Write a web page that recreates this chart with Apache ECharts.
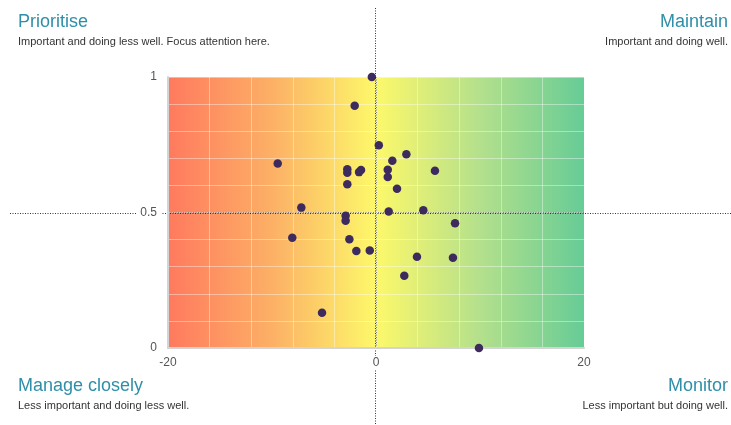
<!DOCTYPE html>
<html>
<head>
<meta charset="utf-8">
<title>Importance vs performance</title>
<script src="https://cdn.jsdelivr.net/npm/echarts@6/dist/echarts.min.js"></script>
<style>
  html, body { margin: 0; padding: 0; background: #fff; }
  #chart { width: 731px; height: 425px; }
</style>
</head>
<body>
<div id="chart"></div>
<script>
// Performance (x, -20..20) against importance (y, 0..1)
const performance = [
  -0.4, -2.05, 0.27, -9.45, -2.76, -2.76, -1.63, -1.44, 1.13, 1.13,
  -2.76, -7.18, 2.92, 1.57, 5.67, 2.02, -2.92, -2.92, -8.05, -2.56,
  -1.89, -0.6, -5.19, 1.22, 4.55, 7.6, 3.94, 7.4, 2.72, 9.9
];
const importance = [
  1.0, 0.894, 0.748, 0.681, 0.660, 0.647, 0.649, 0.657, 0.658, 0.631,
  0.604, 0.518, 0.715, 0.691, 0.654, 0.588, 0.488, 0.470, 0.407, 0.401,
  0.358, 0.360, 0.130, 0.504, 0.508, 0.460, 0.337, 0.333, 0.267, 0.0
];
const xTickLabels = [-20, 0, 20];
const yTickLabels = [0, 0.5, 1];
const quadrants = [
  { title: 'Prioritise', sub: 'Important and doing less well. Focus attention here.', side: 'left', row: 'top' },
  { title: 'Maintain', sub: 'Important and doing well.', side: 'right', row: 'top' },
  { title: 'Manage closely', sub: 'Less important and doing less well.', side: 'left', row: 'bottom' },
  { title: 'Monitor', sub: 'Less important but doing well.', side: 'right', row: 'bottom' }
];
const crossAt = [0, 0.5];

const points = performance.map((x, i) => [x, importance[i]]);
const near = (v, list) => list.some(t => Math.abs(v - t) < 1e-6);

const chart = echarts.init(document.getElementById('chart'));

const font = '"Liberation Sans", Arial, sans-serif';
const labelStyle = {
  color: '#555', fontSize: 12, fontFamily: font,
  backgroundColor: '#fff', padding: [1, 4]
};
const gridLine = { show: true, lineStyle: { color: 'rgba(255,255,255,0.4)', width: 1 } };
const edgeLine = { show: true, onZero: false, lineStyle: { color: '#d4d4d4', width: 2 } };
const dash = [1, 1.5];

chart.setOption({
  animation: false,
  grid: {
    left: 168, right: 147, top: 77, bottom: 77,
    show: true, borderWidth: 0,
    backgroundColor: new echarts.graphic.LinearGradient(0, 0, 1, 0, [
      { offset: 0, color: '#ff7a5e' },
      { offset: 0.25, color: '#fcb066' },
      { offset: 0.5, color: '#fdf86a' },
      { offset: 0.75, color: '#b4e08c' },
      { offset: 1, color: '#66cc96' }
    ])
  },
  xAxis: {
    type: 'value', min: -20, max: 20, interval: 4, z: 10,
    axisLine: edgeLine,
    axisTick: { show: false },
    splitLine: gridLine,
    axisLabel: Object.assign({ margin: 8, formatter: v => near(v, xTickLabels) ? String(v) : '' }, labelStyle)
  },
  yAxis: {
    type: 'value', min: 0, max: 1, interval: 0.1, z: 10,
    axisLine: edgeLine,
    axisTick: { show: false },
    splitLine: gridLine,
    axisLabel: Object.assign({ margin: 7, formatter: v => near(v, yTickLabels) ? String(+v.toFixed(1)) : '' }, labelStyle)
  },
  series: [{
    type: 'scatter',
    z: 20,
    data: points,
    symbolSize: 8.5,
    itemStyle: { color: '#3d2b5e', opacity: 1 },
    // the cross through the middle, drawn over the plot's grid lines
    markLine: {
      silent: true, symbol: 'none', label: { show: false },
      lineStyle: { color: '#333', width: 1, type: dash },
      data: [{ xAxis: crossAt[0] }, { yAxis: crossAt[1] }]
    }
  }]
});

// Quadrant captions and the dotted cross carried out past the plot
const cx = chart.convertToPixel({ xAxisIndex: 0 }, crossAt[0]);
const cy = chart.convertToPixel({ yAxisIndex: 0 }, crossAt[1]);
const W = chart.getWidth(), H = chart.getHeight();

const captions = [];
quadrants.forEach(q => {
  const x = q.side === 'left' ? 18 : W - 3;
  const y = q.row === 'top' ? 13 : 377;
  const align = q.side === 'left' ? 'left' : 'right';
  captions.push({
    type: 'text', x: x, y: y, z: 30,
    style: { text: q.title, fill: '#2f8fa9', fontSize: 18, fontFamily: font, textAlign: align, textVerticalAlign: 'top' }
  });
  captions.push({
    type: 'text', x: x, y: y + 23, z: 30,
    style: { text: q.sub, fill: '#333', fontSize: 11, fontFamily: font, textAlign: align, textVerticalAlign: 'top' }
  });
});

const dotted = { stroke: '#333', lineWidth: 1, lineDash: dash };
chart.setOption({
  graphic: captions.concat([
    { type: 'line', z: 5, silent: true, shape: { x1: Math.round(cx) - 0.5, y1: 8, x2: Math.round(cx) - 0.5, y2: H }, style: dotted },
    { type: 'line', z: 5, silent: true, shape: { x1: 10, y1: Math.round(cy) + 0.5, x2: W, y2: Math.round(cy) + 0.5 }, style: dotted }
  ])
});
</script>
</body>
</html>
